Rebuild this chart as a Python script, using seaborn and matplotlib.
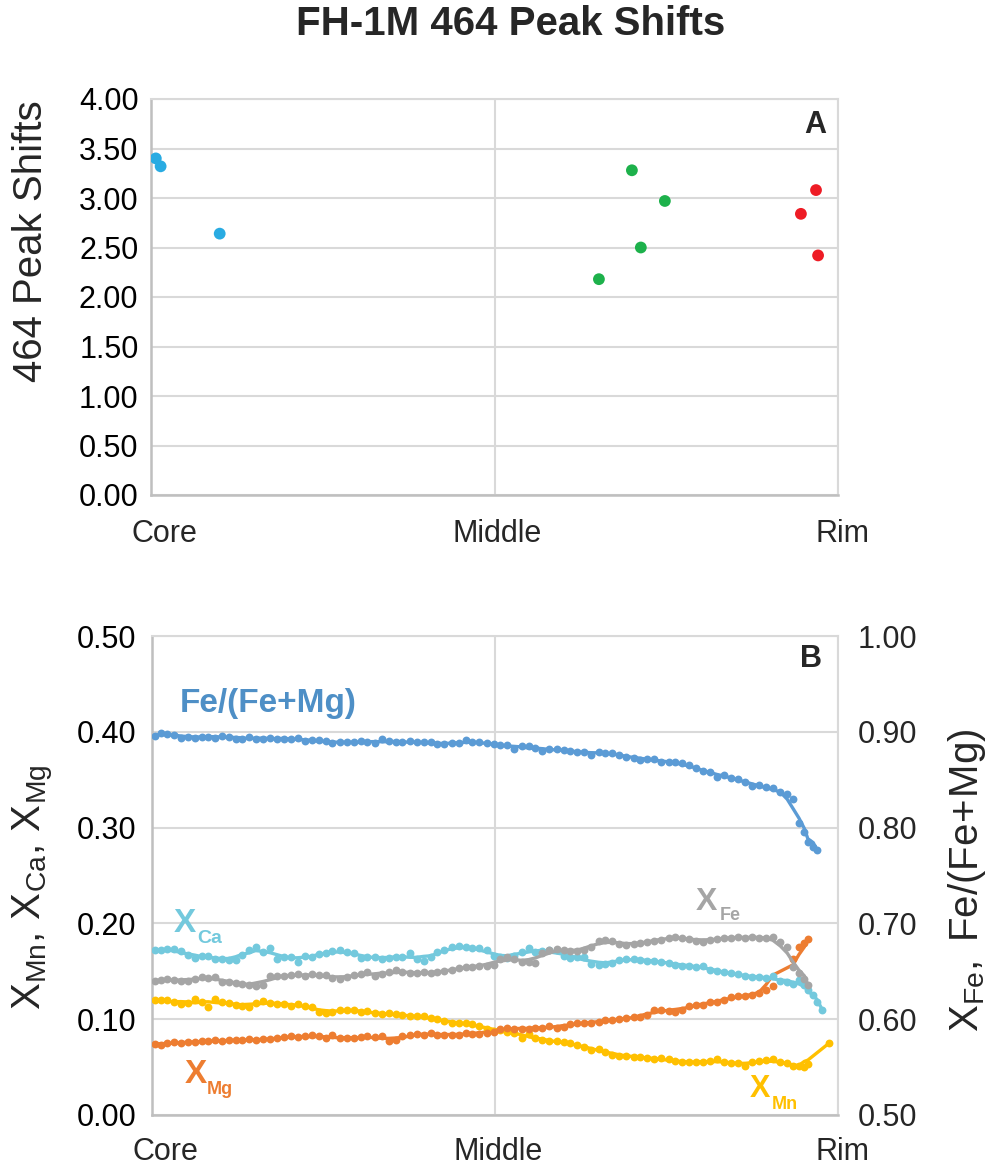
import numpy as np
import pandas as pd
import matplotlib
matplotlib.use("Agg")
import matplotlib.pyplot as plt
import seaborn as sns

nan = np.nan

# ---------------- Panel A data ----------------
peak_pos = [0.7, 1.4, 10.0, 65.2, 70.0, 71.3, 74.8, 96.8, 94.6, 97.1]
peak_shift = [3.40, 3.32, 2.64, 2.18, 3.28, 2.50, 2.97, 3.08, 2.84, 2.42]
peak_zone = ["core", "core", "core", "mid", "mid", "mid", "mid", "rim", "rim", "rim"]
zone_colors = {"core": "#29ABE2", "mid": "#1DB14B", "rim": "#EE1C25"}

# ---------------- Panel B data ----------------
pos = [0.4, 1.3, 2.2, 3.2, 4.2, 5.2, 6.3, 7.3, 8.2, 9.2, 10.2, 11.2, 12.2, 13.1, 14.1, 15.1, 16.2, 17.2, 18.2, 19.2, 20.2, 21.3, 22.3, 23.3, 24.3,
       25.3, 26.3, 27.4, 28.4, 29.4, 30.4, 31.4, 32.5, 33.5, 34.5, 35.5, 36.5, 37.6, 38.6, 39.6, 40.6, 41.6, 42.6, 43.7, 44.7, 45.7, 46.7, 47.7, 48.8, 49.8,
       50.8, 51.8, 52.8, 53.9, 54.9, 55.9, 56.9, 57.9, 59.0, 60.0, 61.0, 62.0, 63.0, 64.0, 65.1, 66.1, 67.1, 68.1, 69.1, 70.2, 71.2, 72.2, 73.2, 74.2,
       75.3, 76.3, 77.3, 78.3, 79.3, 80.3, 81.4, 82.4, 83.4, 84.4, 85.4, 86.5, 87.5, 88.5, 89.5, 90.5, 91.6, 92.6, 93.4, 94.3, 95.1, 95.6, 96.4, 96.9, 97.7, 98.7]

fe_mg = [0.896, 0.899, 0.898, 0.897, 0.894, 0.895, 0.894, 0.895, 0.895, 0.894, 0.896, 0.895, 0.892, 0.893, 0.895, 0.893, 0.892, 0.894, 0.893, 0.893, 0.892, 0.894, 0.890, 0.891, 0.891,
         0.890, 0.888, 0.889, 0.889, 0.889, 0.890, 0.889, 0.888, 0.892, 0.890, 0.889, 0.889, 0.890, 0.889, 0.889, 0.889, 0.887, 0.887, 0.888, 0.888, 0.891, 0.889, 0.889, 0.888, 0.887,
         0.886, 0.886, 0.882, 0.885, 0.885, 0.883, 0.880, 0.882, 0.882, 0.881, 0.880, 0.879, 0.879, 0.876, 0.879, 0.878, 0.878, 0.876, 0.874, 0.873, 0.871, 0.872, 0.872, 0.868,
         0.868, 0.868, 0.867, 0.865, 0.862, 0.859, 0.858, 0.853, 0.855, 0.852, 0.851, 0.848, 0.843, 0.844, 0.842, 0.841, 0.837, 0.835, 0.830, 0.805, 0.795, 0.785, 0.780, 0.777, nan, nan]

x_fe = [0.640, 0.641, 0.642, 0.641, 0.640, 0.640, 0.642, 0.644, 0.643, 0.644, 0.639, 0.639, 0.638, 0.637, 0.636, 0.635, 0.636, 0.645, 0.645, 0.645, 0.646, 0.647, 0.645, 0.647, 0.646,
        0.646, 0.643, 0.642, 0.644, 0.646, 0.647, 0.649, 0.645, 0.647, 0.649, 0.651, 0.649, 0.648, 0.648, 0.649, 0.648, 0.649, 0.650, 0.651, 0.653, 0.655, 0.655, 0.656, 0.656, 0.657,
        0.663, 0.665, 0.663, 0.660, 0.660, 0.659, 0.669, 0.672, 0.673, 0.672, 0.671, 0.671, 0.672, 0.675, 0.682, 0.683, 0.682, 0.678, 0.677, 0.678, 0.680, 0.681, 0.682, 0.683,
        0.685, 0.686, 0.685, 0.684, 0.682, 0.681, 0.683, 0.684, 0.685, 0.685, 0.686, 0.685, 0.686, 0.685, 0.685, 0.686, 0.681, 0.675, 0.655, 0.648, 0.642, 0.636, nan, nan, nan, nan]

x_ca = [0.172, 0.172, 0.173, 0.173, 0.171, 0.167, 0.164, 0.166, 0.166, 0.163, 0.163, 0.162, 0.162, 0.167, 0.172, 0.175, 0.170, 0.174, 0.163, 0.165, 0.165, 0.160, 0.166, 0.165, 0.168,
        0.169, 0.171, 0.172, 0.170, 0.169, 0.164, 0.165, 0.165, 0.163, 0.164, 0.165, 0.165, 0.169, 0.163, 0.161, 0.165, 0.170, 0.172, 0.175, 0.176, 0.175, 0.174, 0.174, 0.172, 0.166,
        0.165, 0.164, 0.166, 0.170, 0.174, 0.170, 0.171, 0.172, 0.172, 0.166, 0.164, 0.165, 0.165, 0.158, 0.157, 0.158, 0.159, 0.162, 0.163, 0.163, 0.162, 0.161, 0.161, 0.160,
        0.159, 0.157, 0.156, 0.156, 0.155, 0.156, 0.151, 0.150, 0.149, 0.148, 0.147, 0.145, 0.144, 0.144, 0.143, 0.145, 0.140, 0.139, 0.137, 0.141, 0.136, 0.131, 0.125, 0.118, 0.110, nan]

x_mg = [0.074, 0.073, 0.075, 0.076, 0.075, 0.076, 0.076, 0.077, 0.077, 0.078, 0.077, 0.078, 0.078, 0.078, 0.079, 0.078, 0.079, 0.079, 0.080, 0.081, 0.082, 0.081, 0.082, 0.083, 0.082,
        0.080, 0.083, 0.080, 0.080, 0.080, 0.081, 0.082, 0.081, 0.082, 0.077, 0.078, 0.082, 0.083, 0.085, 0.084, 0.086, 0.084, 0.083, 0.083, 0.084, 0.086, 0.085, 0.085, 0.086, 0.087,
        0.090, 0.091, 0.090, 0.090, 0.090, 0.091, 0.091, 0.093, 0.091, 0.092, 0.095, 0.096, 0.096, 0.096, 0.097, 0.099, 0.099, 0.100, 0.101, 0.102, 0.102, 0.104, 0.110, 0.110,
        0.109, 0.108, 0.110, 0.114, 0.115, 0.115, 0.118, 0.118, 0.120, 0.123, 0.124, 0.124, 0.125, 0.127, 0.130, 0.135, nan, nan, 0.163, 0.175, 0.180, 0.184, nan, nan, nan, nan]

x_mn = [0.120, 0.120, 0.120, 0.118, 0.116, 0.117, 0.121, 0.118, 0.113, 0.121, 0.118, 0.117, 0.115, 0.114, 0.113, 0.117, 0.119, 0.117, 0.116, 0.116, 0.114, 0.116, 0.114, 0.113, 0.108,
        0.106, 0.108, 0.110, 0.110, 0.110, 0.107, 0.109, 0.106, 0.105, 0.106, 0.105, 0.104, 0.103, 0.103, 0.103, 0.101, 0.100, 0.098, 0.096, 0.096, 0.096, 0.095, 0.093, 0.090, 0.088,
        0.089, 0.087, 0.086, 0.080, 0.085, 0.080, 0.078, 0.077, 0.077, 0.076, 0.075, 0.073, 0.071, 0.068, 0.069, 0.066, 0.063, 0.062, 0.062, 0.061, 0.061, 0.059, 0.058, 0.059,
        0.058, 0.056, 0.055, 0.055, 0.055, 0.055, 0.056, 0.058, 0.055, 0.054, 0.054, 0.051, 0.055, 0.056, 0.057, 0.058, 0.055, 0.054, 0.051, 0.051, 0.050, 0.053, nan, nan, nan, 0.075]

x_ticks = [0, 50, 100]
x_ticklabels = ["Core", "Middle", "Rim"]

# ---------------- style ----------------
sns.set_style("white")
plt.rcParams["font.family"] = ["Liberation Sans", "DejaVu Sans"]
plt.rcParams["mathtext.fontset"] = "custom"
plt.rcParams["mathtext.rm"] = "Liberation Sans"
plt.rcParams["mathtext.it"] = "Liberation Sans"
plt.rcParams["mathtext.bf"] = "Liberation Sans:bold"

GRID = "#D9D9D9"
SPINE = "#BFBFBF"
TICK_FS = 22

fig = plt.figure(figsize=(9.93, 11.66), dpi=100)
W, H = 993.0, 1166.0
ax_a = fig.add_axes([151 / W, 1 - 495 / H, 687 / W, 396 / H])
ax_b = fig.add_axes([152 / W, 1 - 1115 / H, 686 / W, 479 / H])

label_shift_pt = [9.4, 2.2, 3.6]


def style_axes(ax, xpad):
    ax.set_xlim(0, 100)
    ax.set_xticks(x_ticks)
    ax.set_xticklabels([])
    ax.grid(True, color=GRID, lw=1.5)
    ax.set_axisbelow(True)
    for side in ["left", "bottom"]:
        ax.spines[side].set_color(SPINE)
        ax.spines[side].set_linewidth(1.8)
    for side in ["top", "right"]:
        ax.spines[side].set_visible(True)
        ax.spines[side].set_color(GRID)
        ax.spines[side].set_linewidth(1.5)
    ax.tick_params(axis="both", length=0, labelsize=TICK_FS, colors="black")
    ax.set_xlabel("")
    ax.set_ylabel("")
    for xv, lab, dx in zip(x_ticks, x_ticklabels, label_shift_pt):
        ax.annotate(lab, xy=(xv, 0), xycoords=ax.get_xaxis_transform(),
                    xytext=(dx, -xpad), textcoords="offset points",
                    ha="center", va="top", fontsize=TICK_FS, annotation_clip=False)


# ---------------- Panel A ----------------
df_a = pd.DataFrame({"pos": peak_pos, "shift": peak_shift, "zone": peak_zone})
sns.scatterplot(data=df_a, x="pos", y="shift", hue="zone", palette=zone_colors,
                s=72, linewidth=0, legend=False, ax=ax_a, zorder=3)
style_axes(ax_a, 17)
ax_a.set_ylim(0, 4)
ax_a.set_yticks(np.arange(0, 4.01, 0.5))
ax_a.set_yticklabels([f"{v:.2f}" for v in np.arange(0, 4.01, 0.5)])
ax_a.tick_params(axis="y", pad=9)
ax_a.text(98.3, 3.657, "A", fontsize=22, fontweight="bold", ha="right", va="baseline")

fig.text(511 / W, 1 - 24 / H, "FH-1M 464 Peak Shifts", fontsize=29, fontweight="bold",
         ha="center", va="center")
fig.text(31 / W, 1 - 241 / H, "464 Peak Shifts", fontsize=29, rotation=90,
         ha="center", va="center")

# ---------------- Panel B ----------------
df_b = pd.DataFrame({"pos": pos, "fe_mg": fe_mg, "x_fe": x_fe, "x_ca": x_ca,
                     "x_mg": x_mg, "x_mn": x_mn})

ax_b2 = ax_b.twinx()

series = [
    ("x_mn", ax_b, "#FFC000"),
    ("x_mg", ax_b, "#ED7D31"),
    ("x_ca", ax_b, "#73C9DD"),
    ("x_fe", ax_b2, "#A5A5A5"),
    ("fe_mg", ax_b2, "#5B9BD5"),
]
for col, axx, colr in series:
    d = df_b[["pos", col]].dropna().reset_index(drop=True)
    trend = d[col].rolling(5, center=True, min_periods=1).mean()
    trend.iloc[0] = d[col].iloc[0]
    trend.iloc[-1] = d[col].iloc[-1]
    d["trend"] = trend
    sns.lineplot(data=d, x="pos", y="trend", color=colr, lw=2.4, ax=axx, sort=False, zorder=2)
    sns.scatterplot(data=d, x="pos", y=col, color=colr, s=32, linewidth=0, ax=axx,
                    legend=False, zorder=3)

style_axes(ax_b, 16)
ax_b.set_ylim(0, 0.5)
ax_b.set_yticks(np.arange(0, 0.501, 0.1))
ax_b.set_yticklabels([f"{v:.2f}" for v in np.arange(0, 0.501, 0.1)])
ax_b.tick_params(axis="y", pad=11)

ax_b2.set_xlim(0, 100)
ax_b2.set_ylim(0.5, 1.0)
ax_b2.set_yticks(np.arange(0.5, 1.001, 0.1))
ax_b2.set_yticklabels([f"{v:.2f}" for v in np.arange(0.5, 1.001, 0.1)])
ax_b2.grid(False)
for sp in ax_b2.spines.values():
    sp.set_visible(False)
ax_b2.tick_params(axis="y", length=0, labelsize=TICK_FS, pad=14)
ax_b2.set_ylabel("")
ax_b2.set_xlabel("")

ax_b.text(97.7, 0.4676, "B", fontsize=22, fontweight="bold", ha="right", va="baseline")

# series labels
ax_b.text(4.1, 0.4207, "Fe/(Fe+Mg)", fontsize=24, fontweight="bold", color="#4E8FC6",
          ha="left", va="baseline")


def sub_label(x, y, sx, sy, sub, color, size, subsize):
    ax_b.text(x, y, "X", fontsize=size, fontweight="bold", color=color, ha="left", va="baseline")
    ax_b.text(sx, sy, sub, fontsize=subsize, fontweight="bold", color=color, ha="left", va="baseline")


sub_label(3.2, 0.191, 6.6, 0.1795, "Ca", "#73C9DD", 24, 14)
sub_label(79.2, 0.214, 82.8, 0.2035, "Fe", "#A5A5A5", 23, 13)
sub_label(4.7, 0.0334, 8.0, 0.0219, "Mg", "#ED7D31", 24, 13)
sub_label(87.2, 0.0188, 90.4, 0.0063, "Mn", "#FFC000", 22, 13)

fig.text(33 / W, 1 - 887 / H, r"$\mathregular{X_{Mn},\,X_{Ca},\,X_{Mg}}$", fontsize=29,
         rotation=90, ha="center", va="center")
fig.text(967 / W, 1 - 880 / H, r"$\mathregular{X_{Fe},\ Fe/(Fe\!+\!Mg)}$", fontsize=29,
         rotation=90, ha="center", va="center")

fig.savefig("out.png", dpi=100)
